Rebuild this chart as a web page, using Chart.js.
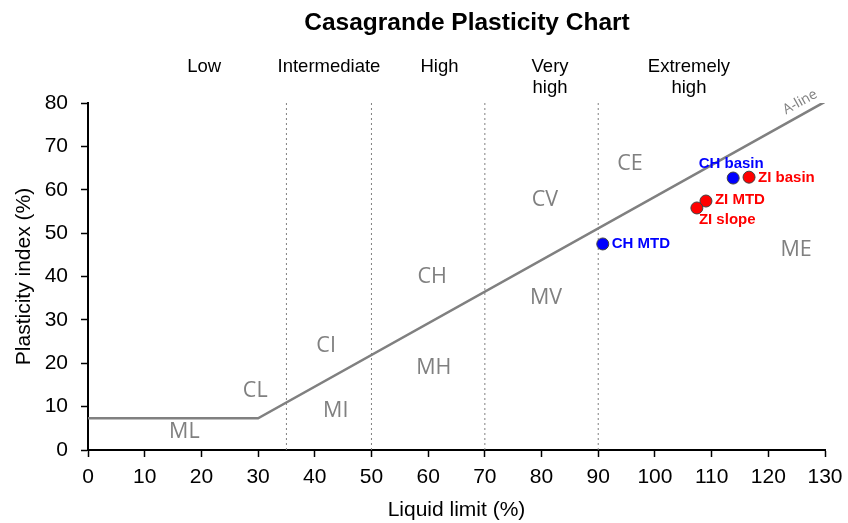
<!DOCTYPE html>
<html>
<head>
<meta charset="utf-8">
<script src="https://cdn.jsdelivr.net/npm/chart.js@4.4.0/dist/chart.umd.min.js"></script>
<style>
  html, body { margin: 0; padding: 0; background: #fff; }
  #wrap { width: 848px; height: 523px; }
</style>
</head>
<body>
<div id="wrap"><canvas id="canv"></canvas></div>
<script>
// A-line: horizontal at PI 7.3 up to LL 30, then PI = 0.73 (LL - 20)
var aLineX = [0, 30, 130];
var aLineY = [7.3, 7.3, 80.3];

// dotted boundaries between plasticity classes
var boundaries = [35, 50, 70, 90];

// samples
var sampleNames = ["CH basin", "ZI basin", "ZI MTD", "ZI slope", "CH MTD"];
var sampleLL = [113.8, 116.6, 109.0, 107.4, 90.8];
var samplePI = [62.7, 62.9, 57.4, 55.8, 47.5];
var sampleColors = ["#0000ff", "#ff0000", "#ff0000", "#ff0000", "#0000ff"];

// zone labels
var zoneNames = ["ML", "CL", "MI", "CI", "MH", "CH", "MV", "CV", "CE", "ME"];
var zoneLL = [17, 29.5, 43.7, 42, 61, 60.7, 80.8, 80.6, 95.6, 124.9];
var zonePI = [4.1, 13.6, 9, 24, 18.9, 39.9, 35, 57.6, 65.9, 46.1];

// class headings above the plot
var classNames = [["Low"], ["Intermediate"], ["High"], ["Very", "high"], ["Extremely", "high"]];
var classLL = [20.5, 42.5, 62, 81.5, 106];

var datasets = [];
datasets.push({
  type: 'line',
  data: aLineX.map(function (x, i) { return { x: x, y: aLineY[i] }; }),
  borderColor: '#808080',
  borderWidth: 2.5,
  pointRadius: 0,
  fill: false,
  order: 2
});
for (var b = 0; b < boundaries.length; b++) {
  datasets.push({
    type: 'line',
    data: [{ x: boundaries[b], y: 0 }, { x: boundaries[b], y: 80 }],
    borderColor: '#808080',
    borderWidth: 1,
    borderDash: [2, 3],
    pointRadius: 0,
    fill: false,
    order: 3
  });
}
datasets.push({
  type: 'scatter',
  data: sampleLL.map(function (x, i) { return { x: x, y: samplePI[i] }; }),
  backgroundColor: sampleColors,
  borderColor: '#404040',
  borderWidth: 1,
  pointRadius: 6,
  order: 1
});

// where each sample label sits relative to its point (px)
var labelOffsets = [[-2, -14, 'center'], [9, 1, 'left'], [9, -1, 'left'], [2, 12, 'left'], [9, 0, 'left']];

var textPlugin = {
  id: 'texts',
  afterDatasetsDraw: function (chart) {
    var ctx = chart.ctx;
    var xs = chart.scales.x, ys = chart.scales.y;
    ctx.save();
    // title
    ctx.fillStyle = '#000';
    ctx.font = 'bold 24.5px "Liberation Sans", Arial, sans-serif';
    ctx.textAlign = 'center';
    ctx.textBaseline = 'middle';
    ctx.fillText('Casagrande Plasticity Chart', 467, 23);

    // class headings
    ctx.font = '18.5px "Liberation Sans", Arial, sans-serif';
    for (var i = 0; i < classNames.length; i++) {
      for (var j = 0; j < classNames[i].length; j++) {
        ctx.fillText(classNames[i][j], xs.getPixelForValue(classLL[i]), 67 + j * 21);
      }
    }

    // zone labels
    ctx.fillStyle = '#808080';
    ctx.font = '21.5px "Open Sans", "Noto Sans", sans-serif';
    for (var k = 0; k < zoneNames.length; k++) {
      ctx.fillText(zoneNames[k], xs.getPixelForValue(zoneLL[k]), ys.getPixelForValue(zonePI[k]));
    }

    // A-line label
    ctx.save();
    ctx.font = '14px "Open Sans", "Noto Sans", sans-serif';
    ctx.translate(xs.getPixelForValue(125.6), ys.getPixelForValue(80.2));
    ctx.rotate(-Math.atan2(0.73 * (ys.getPixelForValue(0) - ys.getPixelForValue(1)), xs.getPixelForValue(1) - xs.getPixelForValue(0)));
    ctx.fillText('A-line', 0, 0);
    ctx.restore();

    // sample labels
    ctx.font = 'bold 15px "Liberation Sans", Arial, sans-serif';
    for (var s = 0; s < sampleNames.length; s++) {
      var off = labelOffsets[s];
      ctx.fillStyle = sampleColors[s];
      ctx.textAlign = off[2];
      ctx.fillText(sampleNames[s], xs.getPixelForValue(sampleLL[s]) + off[0], ys.getPixelForValue(samplePI[s]) + off[1]);
    }
    ctx.restore();
  }
};

var tickFont = { family: '"Liberation Sans", Arial, sans-serif', size: 21 };

var chart = new Chart(document.getElementById('canv'), {
  data: { datasets: datasets },
  options: {
    responsive: true,
    maintainAspectRatio: false,
    animation: false,
    layout: { padding: { top: 103, right: 23, left: 0, bottom: 0 } },
    plugins: {
      legend: { display: false },
      title: { display: false },
      tooltip: { enabled: false }
    },
    scales: {
      x: {
        type: 'linear',
        min: 0,
        max: 130,
        ticks: { stepSize: 10, color: '#000', font: tickFont, padding: 8 },
        grid: { drawOnChartArea: false, color: '#000', tickLength: 7, tickWidth: 1.5 },
        border: { color: '#000', width: 2 },
        title: { display: true, text: 'Liquid limit (%)', color: '#000', font: tickFont, padding: { top: 0, bottom: 0 } },
        afterFit: function (s) { s.height = 73; s.paddingLeft = 0; s.paddingRight = 0; }
      },
      y: {
        type: 'linear',
        min: 0,
        max: 80,
        ticks: { stepSize: 10, color: '#000', font: tickFont, padding: 13 },
        grid: { drawOnChartArea: false, color: '#000', tickLength: 7, tickWidth: 1.5 },
        border: { color: '#000', width: 2 },
        title: { display: true, text: 'Plasticity index (%)', color: '#000', font: tickFont, padding: { top: 12, bottom: 0 } },
        afterFit: function (s) { s.width = 88; s.paddingTop = 0; s.paddingBottom = 0; }
      }
    }
  },
  plugins: [textPlugin]
});
</script>
</body>
</html>
